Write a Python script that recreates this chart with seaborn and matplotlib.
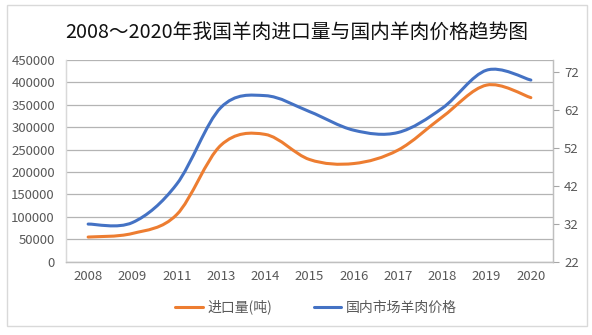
import matplotlib
matplotlib.use("Agg")
import matplotlib.pyplot as plt
import seaborn as sns
import numpy as np
import pandas as pd
from matplotlib.path import Path
from matplotlib.patches import PathPatch, Rectangle
from matplotlib.lines import Line2D

# ---- data ----
years = ['2008', '2009', '2011', '2013', '2014', '2015', '2016', '2017', '2018', '2019', '2020']
imports = [55000, 63000, 105000, 260000, 284000, 228000, 219000, 249000, 323000, 394000, 366000]
price = [31.9, 32.3, 42.4, 62.6, 65.7, 61.5, 56.6, 56.0, 62.4, 72.4, 69.8]
left_ticks = [0, 50000, 100000, 150000, 200000, 250000, 300000, 350000, 400000, 450000]
right_ticks = [22, 32, 42, 52, 62, 72]
title = '2008～2020年我国羊肉进口量与国内羊肉价格趋势图'
label_imports = '进口量(吨)'
label_price = '国内市场羊肉价格'

ORANGE = '#ED7D31'
BLUE = '#4472C4'
GRID = '#B4B4B4'
TXT = '#595959'

sns.set_theme(style='white')
plt.rcParams['font.family'] = ['Noto Sans CJK SC', 'DejaVu Sans']

df = pd.DataFrame({'year': years, 'idx': np.arange(len(years)),
                   'imports': imports, 'price': price})

fig = plt.figure(figsize=(5.92, 3.35), dpi=100)
W, H = 592, 335
ax = fig.add_axes([66 / W, 1 - 261.7 / H, (553 - 66) / W, (261.7 - 60) / H])
ax2 = ax.twinx()

# register data with seaborn (invisible), smooth curves drawn below
sns.lineplot(data=df, x='idx', y='imports', ax=ax, linewidth=0, legend=False)
sns.lineplot(data=df, x='idx', y='price', ax=ax2, linewidth=0, legend=False)


def smooth_path(xs, ys):
    pts = np.column_stack([xs, ys]).astype(float)
    n = len(pts)
    verts = [pts[0]]
    codes = [Path.MOVETO]
    for i in range(n - 1):
        p0 = pts[i - 1] if i > 0 else pts[i]
        p1 = pts[i]
        p2 = pts[i + 1]
        p3 = pts[i + 2] if i + 2 < n else pts[i + 1]
        c1 = p1 + (p2 - p0) / 6.0
        c2 = p2 - (p3 - p1) / 6.0
        verts += [c1, c2, p2]
        codes += [Path.CURVE4] * 3
    return Path(verts, codes)


ax.add_patch(PathPatch(smooth_path(df['idx'], df['imports']), fill=False,
                       edgecolor=ORANGE, lw=2.2, capstyle='round', zorder=3))
ax2.add_patch(PathPatch(smooth_path(df['idx'], df['price']), fill=False,
                        edgecolor=BLUE, lw=2.2, capstyle='round', zorder=3))

ax.set_xlim(-0.5, len(years) - 0.5)
ax.set_ylim(0, 450000)
ax2.set_ylim(22, 72 + (71.7 - 60) / 38 * 10)

ax.set_yticks(left_ticks)
ax.set_yticklabels([str(v) for v in left_ticks])
ax2.set_yticks(right_ticks)
ax2.set_yticklabels([str(v) for v in right_ticks])

ax.set_xticks(np.arange(len(years)))
ax.set_xticklabels(years)
ax.set_xticks(np.arange(-0.5, len(years)), minor=True)
ax.tick_params(axis='x', which='major', length=0, pad=6, labelsize=9.5, labelcolor=TXT)
ax.tick_params(axis='x', which='minor', length=4, width=0.8, color='#A6A6A6', direction='out')
ax.tick_params(axis='y', length=0, pad=8, labelsize=9.5, labelcolor=TXT)
ax2.tick_params(axis='y', length=4, width=0.8, color='#A6A6A6', direction='out',
                pad=4, labelsize=9.5, labelcolor=TXT)
ax.set_xlabel('')
ax.set_ylabel('')
ax2.set_ylabel('')

ax.grid(True, axis='y', color=GRID, lw=0.9)
ax.set_axisbelow(True)
ax.grid(False, axis='x')
ax2.grid(False)

for a in (ax, ax2):
    a.spines['top'].set_visible(False)
    a.spines['left'].set_color('#D9D9D9')
    a.spines['right'].set_color('#BFBFBF')
    a.spines['bottom'].set_color('#BFBFBF')
    for s in a.spines.values():
        s.set_linewidth(0.9)

fig.text(297 / W, 1 - 32 / H, title, ha='center', va='center', fontsize=14.2, color='#111111')

handles = [Line2D([0], [0], color=ORANGE, lw=2.2), Line2D([0], [0], color=BLUE, lw=2.2)]
fig.legend(handles, [label_imports, label_price], loc='center', ncol=2,
           bbox_to_anchor=(316 / W, 1 - 307 / H), frameon=False, fontsize=10,
           handlelength=2.0, columnspacing=3.0, handletextpad=0.3, labelcolor=TXT)

fig.patches.append(Rectangle((6.5 / W, 1 - 326 / H), (587 - 6.5) / W, (326 - 4.5) / H,
                             transform=fig.transFigure, fill=False, edgecolor='#D9D9D9', lw=1))

fig.savefig('out.png', dpi=100)
